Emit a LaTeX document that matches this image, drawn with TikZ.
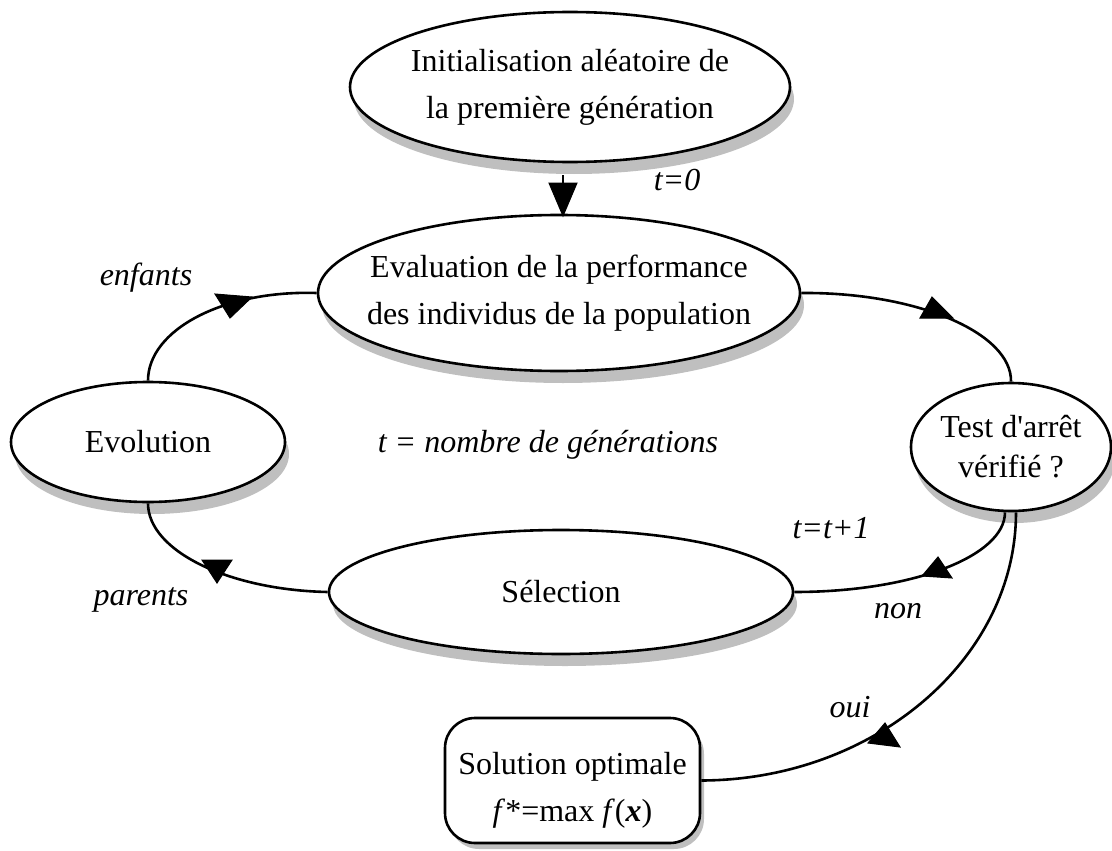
\documentclass[tikz,border=0pt]{standalone}
\usepackage{fontspec}
\setmainfont{Liberation Serif}[Ligatures=TeXOff]
\usetikzlibrary{shapes.geometric,shadows}
\newcommand\mybig{\fontsize{32}{47}\selectfont}
\begin{document}
\begin{tikzpicture}[x=1pt,y=-1pt,
  conn/.style={line width=2.6pt},
  ovshadow/.style={drop shadow={shadow xshift=4pt, shadow yshift=-12pt, fill=black!25, opacity=1}},
  bxshadow/.style={drop shadow={shadow xshift=4pt, shadow yshift=-6pt, fill=black!25, opacity=1}},
  box/.style={draw, line width=2.6pt, fill=white, align=center, inner sep=-50pt, font=\mybig},
  oval/.style={box, ellipse, ovshadow},
  lab/.style={font=\mybig\itshape, anchor=base, inner sep=0pt},
  head/.style={fill=black, draw=black, line width=1pt, line join=miter}
]
\useasboundingbox (0,0) rectangle (1112,851);

% nodes
\node[oval, minimum width=440pt, minimum height=150pt] (init) at (570,87)
  {Initialisation aléatoire de\\la première génération};
\node[oval, minimum width=482pt, minimum height=156pt] (eval) at (559,293)
  {Evaluation de la performance\\des individus de la population};
\node[oval, minimum width=274pt, minimum height=120pt] (evo) at (148,442) {Evolution};
\node[oval, minimum width=200pt, minimum height=128pt, font=\fontsize{32}{40}\selectfont] (test) at (1011,447)
  {Test d'arrêt\\vérifié ?};
\node[oval, minimum width=464pt, minimum height=124pt] (sel) at (561,592) {Sélection};
\node[box, bxshadow, rectangle, rounded corners=30pt, minimum width=255pt, minimum height=125pt] (sol) at (572.5,780.5)
  {\rule{0pt}{41pt}Solution optimale\\\textit{f}*=max \textit{f}(\textbf{\textit{x}})};

% labels
\node[lab] (l0) at (677,190) {t=0};
\node[lab] (lenf) at (146,285) {enfants};
\node[lab] (lgen) at (548,452) {t = nombre de générations};
\node[lab] (ltt) at (831,538) {t=t+1};
\node[lab] (lnon) at (898,618) {non};
\node[lab] (lpar) at (141,605) {parents};
\node[lab] (loui) at (850,717) {oui};

% connectors
\draw[conn] ([xshift=-7pt,yshift=-12pt]init.south) -- ([xshift=4pt]eval.north);
\draw[conn] (evo.north) .. controls (148,330) and (223,290) .. (eval.west);
\draw[conn] (eval.east) .. controls (917,292) and (1012,333) .. (test.north);
\draw[conn] ([xshift=-6pt]test.south) .. controls (1005,556) and (913,592) .. (sel.east);
\draw[conn] ([xshift=5pt]test.south) .. controls (1016,659) and (874,780) .. (sol.east);
\draw[conn] (sel.west) .. controls (229,590) and (148,551) .. (evo.south);

% arrowheads
\filldraw[head] (549,183) -- (577,183) -- (563,216) -- cycle;
\filldraw[head] (215,294) -- (252,297) -- (230,318) -- cycle;
\filldraw[head] (932,297) -- (920,318) -- (953,318) -- cycle;
\filldraw[head] (202,560) -- (232,560) -- (217,583) -- cycle;
\filldraw[head] (938,557) -- (922,576) -- (952,578) -- cycle;
\filldraw[head] (885,723) -- (868,743) -- (900,747) -- cycle;
\end{tikzpicture}
\end{document}
